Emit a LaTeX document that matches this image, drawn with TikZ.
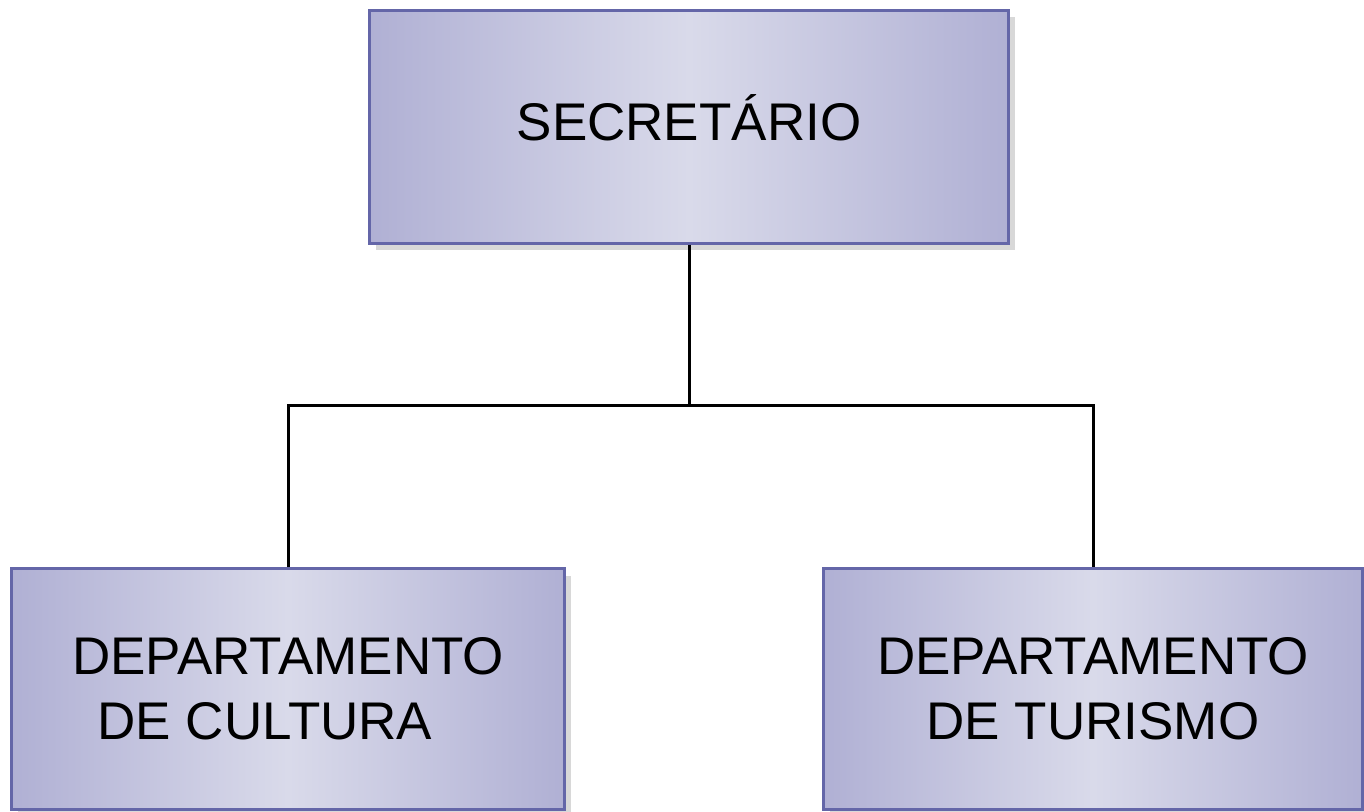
\documentclass[tikz,border=0pt]{standalone}
\usepackage{fontspec}
\setmainfont{Liberation Sans}
\usetikzlibrary{shadows}
\definecolor{edgeblue}{RGB}{176,176,212}
\definecolor{midblue}{RGB}{217,218,234}
\definecolor{borderblue}{RGB}{100,102,168}
\tikzset{
  orgbox/.style={rectangle, draw=borderblue, line width=3pt,
    left color=edgeblue, right color=edgeblue, middle color=midblue,
    drop shadow={opacity=0.3, shadow xshift=6pt, shadow yshift=-7pt},
    align=center, inner sep=0pt,
    font=\fontsize{53}{65}\selectfont},
  conn/.style={draw=black, line width=3pt}
}
\begin{document}
\begin{tikzpicture}[x=1pt,y=-1pt]
\useasboundingbox[fill=white] (0,0) rectangle (1364,811);
\node[orgbox, minimum width=639pt, minimum height=233pt, text height=40pt, text depth=13pt] (sec) at (689,126.5) {SECRET\'ARIO};
\node[orgbox, minimum width=553pt, minimum height=241pt] (cult) at (288,689) {DEPARTAMENTO\\DE CULTURA\rule{46pt}{0pt}};
\node[orgbox, minimum width=539pt, minimum height=241pt] (tur) at (1093,689) {DEPARTAMENTO\\DE TURISMO};
\coordinate (j) at (689,405);
\draw[conn] (sec.south) -- (j);
\draw[conn] (cult.north) |- (j) -| (tur.north);
\end{tikzpicture}
\end{document}
